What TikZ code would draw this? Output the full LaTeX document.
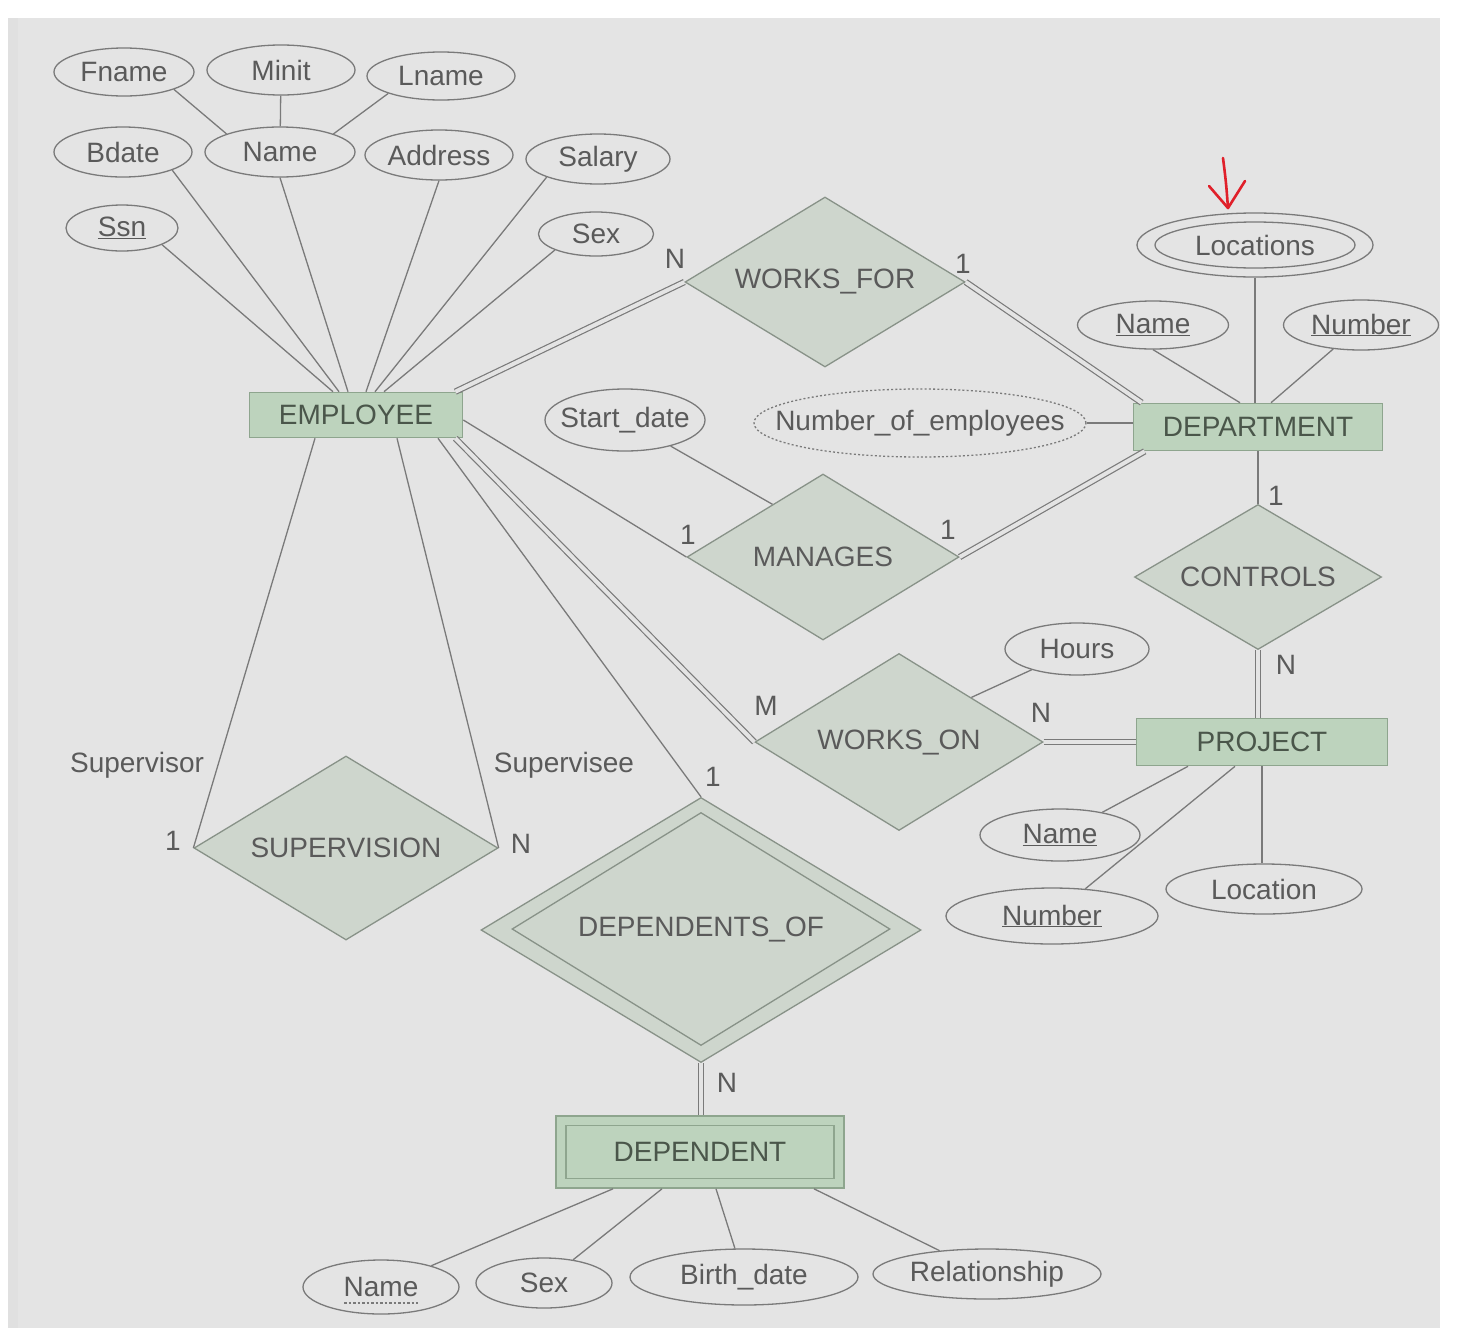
\documentclass[tikz,border=0pt]{standalone}
\usepackage{fontspec}
\setmainfont{Liberation Sans}
\usetikzlibrary{shapes.geometric,calc}
\definecolor{pagebg}{HTML}{E4E4E4}
\definecolor{ln}{HTML}{7A7A7A}
\definecolor{txt}{HTML}{5A5A5A}
\definecolor{enttxt}{HTML}{4A564A}
\definecolor{entfill}{HTML}{BDD3BD}
\definecolor{entdraw}{HTML}{8EA58E}
\definecolor{relfill}{HTML}{CED6CD}
\definecolor{reldraw}{HTML}{889288}
\definecolor{penred}{HTML}{E0202A}
\begin{document}
\begin{tikzpicture}[x=1pt,y=-1pt,
  every node/.style={font=\fontsize{28}{32}\selectfont, text=txt},
  attr/.style={ellipse, draw=ln, line width=1.3pt, inner xsep=-30pt, inner ysep=-30pt},
  ent/.style={rectangle, draw=entdraw, fill=entfill, line width=1.6pt, inner sep=0pt, text=enttxt},
  rel/.style={diamond, draw=reldraw, fill=relfill, line width=1.3pt, inner sep=0pt, aspect=1.65},
  conn/.style={draw=ln, line width=1.3pt},
  dbl/.style={draw=ln, line width=1.2pt, double=pagebg, double distance=4pt},
  card/.style={inner sep=0pt},
]
% page
\fill[white] (0,0) rectangle (1464,1328);
\fill[pagebg] (8,18) rectangle (1440,1328);
\fill[black!12] (8,18) rectangle (18,1328);
\useasboundingbox (0,0) rectangle (1464,1328);

% ---------- EMPLOYEE ----------
\node[ent, minimum width=213pt, minimum height=45pt] (emp) at (356,415) {EMPLOYEE};
\node[attr, minimum width=140pt, minimum height=48pt] (fname) at (124,72) {Fname};
\node[attr, minimum width=148pt, minimum height=50pt] (minit) at (281,70) {Minit};
\node[attr, minimum width=148pt, minimum height=48pt] (lname) at (441,76) {Lname};
\node[attr, minimum width=138pt, minimum height=50pt] (bdate) at (123,152) {Bdate};
\node[attr, minimum width=150pt, minimum height=50pt] (ename) at (280,152) {Name};
\node[attr, minimum width=148pt, minimum height=50pt] (address) at (439,155) {Address};
\node[attr, minimum width=144pt, minimum height=50pt] (salary) at (598,159) {Salary};
\node[attr, minimum width=112pt, minimum height=46pt] (ssn) at (122,228) {\underline{Ssn}};
\node[attr, minimum width=115pt, minimum height=44pt] (esex) at (596,234) {Sex};

\draw[conn] (fname.south east) -- (ename.north west);
\draw[conn] (minit) -- (ename);
\draw[conn] (lname.south west) -- (ename.north east);
\draw[conn] (ssn.south east) -- ([xshift=-23pt]emp.north);
\draw[conn] (bdate.south east) -- ([xshift=-17pt]emp.north);
\draw[conn] (ename.south) -- ([xshift=-8pt]emp.north);
\draw[conn] (address.south) -- ([xshift=10pt]emp.north);
\draw[conn] (salary.south west) -- ([xshift=19pt]emp.north);
\draw[conn] (esex.south west) -- ([xshift=28pt]emp.north);

% ---------- WORKS_FOR ----------
\node[rel, minimum width=280pt, minimum height=170pt, aspect=1.65] (worksfor) at (825,282) {WORKS\_FOR};
\draw[dbl] ([xshift=-8pt]emp.north east) -- (worksfor.west);
\node[card] (wfN) at (675,259) {N};
\node[card] (wf1) at (963,264) {1};

% ---------- DEPARTMENT ----------
\node[ent, minimum width=249pt, minimum height=47pt] (dept) at (1258,427) {DEPARTMENT};
\node[attr, minimum width=236pt, minimum height=64pt] (locs) at (1255,245) {};
\node[attr, minimum width=200pt, minimum height=46pt] (locsin) at (1255,245) {Locations};
\node[attr, minimum width=151pt, minimum height=48pt] (dname) at (1153,325) {\underline{Name}};
\node[attr, minimum width=155pt, minimum height=50pt] (dnumber) at (1361,325) {\underline{Number}};
\node[attr, dash pattern=on 2pt off 2.2pt, minimum width=332pt, minimum height=68pt] (noe) at (920,423) {Number\_of\_employees};

\draw[conn] (locs) -- (locs |- dept.north);
\draw[conn] (dname.south) -- ([xshift=-18pt]dept.north);
\draw[conn] (dnumber) -- ([xshift=13pt]dept.north);
\draw[conn] (noe.east) -- (noe.east -| dept.west);
\draw[dbl] (worksfor.east) -- ([xshift=9pt]dept.north west);

% ---------- MANAGES ----------
\node[rel, minimum width=272pt, minimum height=166pt] (manages) at (823,557) {MANAGES};
\node[attr, minimum width=160pt, minimum height=62pt] (startdate) at (625,420) {Start\_date};
\draw[conn] ([yshift=-5pt]emp.east) -- (manages.west);
\draw[conn] (startdate) -- ($(manages.north)!0.37!(manages.west)$);
\draw[dbl] (manages.east) -- ([xshift=12pt]dept.south west);
\node[card] (mg1a) at (688,535) {1};
\node[card] (mg1b) at (948,530) {1};

% ---------- CONTROLS ----------
\node[rel, minimum width=247pt, minimum height=145pt, aspect=1.7] (controls) at (1258,577) {CONTROLS};
\draw[conn] (dept.south) -- (dept.south |- controls.north);
\node[card] (ct1) at (1276,496) {1};

% ---------- PROJECT ----------
\node[ent, minimum width=251pt, minimum height=47pt] (project) at (1262,742) {PROJECT};
\draw[dbl] (controls.south) -- (controls.south |- project.north);
\node[card] (ctN) at (1286,665) {N};
\node[attr, minimum width=160pt, minimum height=52pt] (pname) at (1060,835) {\underline{Name}};
\node[attr, minimum width=212pt, minimum height=56pt] (pnumber) at (1052,916) {\underline{Number}};
\node[attr, minimum width=196pt, minimum height=50pt] (ploc) at (1264,889) {Location};
\draw[conn] (pname) -- ([xshift=-74pt]project.south);
\draw[conn] (pnumber) -- ([xshift=-27pt]project.south);
\draw[conn] (project.south) -- (project.south |- ploc.north);

% ---------- WORKS_ON ----------
\node[rel, minimum width=288pt, minimum height=177pt, aspect=1.63] (workson) at (899,742) {WORKS\_ON};
\node[attr, minimum width=144pt, minimum height=52pt] (hours) at (1077,649) {Hours};
\draw[conn] (hours) -- ($(workson.north)!0.5!(workson.east)$);
\draw[dbl] ([xshift=-8pt]emp.south east) -- (workson.west);
\draw[dbl] (workson.east) -- (project.west);
\node[card] (woM) at (766,706) {M};
\node[card] (woN) at (1041,713) {N};

% ---------- SUPERVISION ----------
\node[rel, minimum width=304pt, minimum height=184pt] (superv) at (346,848) {SUPERVISION};
\draw[conn] ([xshift=-41pt]emp.south) -- (superv.west);
\draw[conn] ([xshift=41pt]emp.south) -- (superv.east);
\node[card] (svr) at (137,765) {Supervisor};
\node[card] (sve) at (564,765) {Supervisee};
\node[card] (sv1) at (173,841) {1};
\node[card] (svN) at (521,844) {N};

% ---------- DEPENDENTS_OF ----------
\node[rel, minimum width=440pt, minimum height=265pt] (depof) at (701,930) {};
\node[rel, minimum width=378pt, minimum height=233pt, aspect=1.62] (depofin) at (701,929) {DEPENDENTS\_OF};
\draw[conn] ([xshift=82pt]emp.south) -- (depof.north);
\node[card] (do1) at (713,777) {1};

% ---------- DEPENDENT ----------
\node[ent, minimum width=288pt, minimum height=72pt] (dependent) at (700,1152) {};
\node[ent, minimum width=268pt, minimum height=53pt] (dependentin) at (700,1152) {DEPENDENT};
\draw[dbl] (depof.south) -- (depof.south |- dependent.north);
\node[card] (doN) at (727,1083) {N};

\node[attr, minimum width=156pt, minimum height=54pt] (depname) at (381,1287) {Name};
\node[attr, minimum width=136pt, minimum height=50pt] (depsex) at (544,1283) {Sex};
\node[attr, minimum width=228pt, minimum height=56pt] (bdate2) at (744,1277) {Birth\_date};
\node[attr, minimum width=228pt, minimum height=50pt] (relship) at (987,1274) {Relationship};
\draw[ln, line width=1.3pt, dash pattern=on 2.5pt off 2pt] ($(depname.center)+(-37,16)$) -- ($(depname.center)+(37,16)$);
\draw[conn] ([xshift=-87pt]dependent.south) -- (depname);
\draw[conn] ([xshift=-38pt]dependent.south) -- (depsex);
\draw[conn] ([xshift=16pt]dependent.south) -- (bdate2);
\draw[conn] ([xshift=114pt]dependent.south) -- (relship);

% ---------- red annotation ----------
\draw[penred, line width=2.6pt, line cap=round, line join=round]
  (1223,158) .. controls (1226,182) .. (1228,208);
\draw[penred, line width=2.6pt, line cap=round, line join=round]
  (1209,186) -- (1228,208) -- (1245,181);
\end{tikzpicture}
\end{document}
